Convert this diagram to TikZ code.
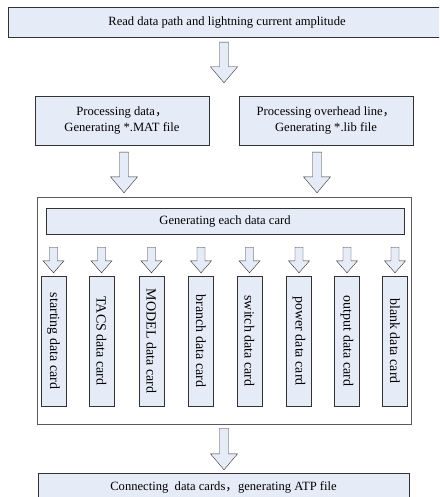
\documentclass[tikz,border=0pt]{standalone}
\usepackage{fontspec}
\setmainfont{Liberation Serif}
\newfontfamily\cjk{Noto Sans CJK SC}
\usetikzlibrary{calc}
\definecolor{boxblue}{RGB}{230,236,247}
\definecolor{edgegray}{RGB}{50,50,50}

\begin{document}
\begin{tikzpicture}[x=1pt,y=-1pt,
textbox/.style={draw=edgegray,fill=boxblue,rectangle,inner sep=2pt,align=center,font=\fontsize{12.6}{16}\selectfont},
cardbox/.style={draw=edgegray,fill=boxblue,rectangle,inner sep=2pt,minimum width=130pt,minimum height=25pt,rotate=-90,font=\fontsize{14}{16}\selectfont},
outerbox/.style={draw=edgegray!80,fill=white,rectangle,inner sep=0pt},
hollow/.style n args={3}{draw=edgegray,fill=boxblue,to path={let \p1=(\tikztostart),\p2=(\tikztotarget) in (\x1-#1,\y1) -- (\x1-#1,\y2+#3) -- (\x1-#2,\y2+#3) -- (\x1,\y2) -- (\x1+#2,\y2+#3) -- (\x1+#1,\y2+#3) -- (\x1+#1,\y1) -- cycle}},
bigarrow/.style={hollow={4.5pt}{13.5pt}{16pt}},
smallarrow/.style={hollow={4pt}{10.5pt}{12pt}}]

\clip (0,0) rectangle (439,497);

\draw (227,22) node[textbox,minimum width=438pt,minimum height=30pt] (read) {Read data path and lightning current amplitude};
\draw (122,120.5) node[textbox,minimum width=174pt,minimum height=49pt] (mat) {Processing data{\cjk ，}\\Generating *.MAT file};
\draw (326,120.5) node[textbox,minimum width=174pt,minimum height=49pt] (lib) {Processing overhead line{\cjk ，}\\Generating *.lib file};
\draw (224,310.5) node[outerbox,minimum width=374pt,minimum height=227pt] (frame) {};
\draw (225,221) node[textbox,minimum width=358pt,minimum height=26pt] (gen) {Generating each data card};
\foreach \x/\name/\txt in {53.5/c1/starting data card,101.5/c2/TACS data card,151.5/c3/MODEL data card,201/c4/branch data card,
  249.5/c5/switch data card,299/c6/power data card,347/c7/output data card,395/c8/blank data card}
  \draw (\x,341) node[cardbox] (\name) {\txt};
\draw (223.5,487) node[textbox,minimum width=371pt,minimum height=28pt] (atp) {Connecting\ \ data cards{\cjk ，}generating ATP file};

\draw[bigarrow] ($(read.south -| frame.north)+(0,5)$) to ($(mat.north -| frame.north)+(0,-13)$);
\draw[bigarrow] ($(mat.south)+(2,7)$) to ($(frame.north -| mat.south)+(2,-4)$);
\draw[bigarrow] ($(lib.south)+(-9,7)$) to ($(frame.north -| lib.south)+(-9,-4)$);
\foreach \name in {c1,c2,c3,c4,c5,c6,c7,c8}
  \draw[smallarrow] ($(gen.south -| \name.west)+(0,13)$) to ($(\name.west)+(0,-3)$);
\draw[bigarrow] ($(frame.south)+(0,4)$) to ($(atp.north)+(0,-3)$);
\end{tikzpicture}
\end{document}
